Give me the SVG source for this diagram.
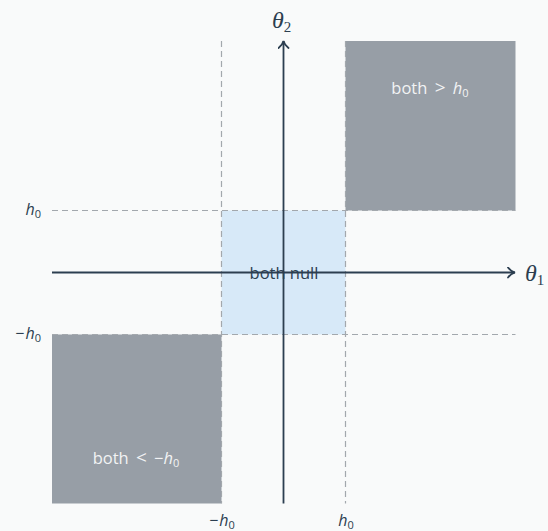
<svg xmlns="http://www.w3.org/2000/svg" width="548" height="531" viewBox="0 0 548 531">
<style>
.dash{stroke:#a3a8ad;stroke-width:1.2;stroke-dasharray:6 4;fill:none}
.axis{stroke:#2c3e50;stroke-width:1.8;fill:none}
.lbl{font-family:"Open Sans","Liberation Sans",sans-serif;font-size:16.5px}
.rel{font-size:19px}
.math{font-family:"Liberation Serif","DejaVu Serif",serif;font-style:italic}
.tick{font-family:"Open Sans","Liberation Sans",sans-serif;font-size:16px;fill:#2c3e50}
.sub{font-size:11px}
</style>
<defs>
<marker id="arr" viewBox="0 0 12 12" refX="10" refY="6" markerWidth="12" markerHeight="12" markerUnits="userSpaceOnUse" orient="auto">
<path d="M3,1 Q6,5 10,6 Q6,7 3,11" fill="none" stroke="#2c3e50" stroke-width="1.8" stroke-linecap="round"/>
</marker>
</defs>
<rect width="548" height="531" fill="#f9fafa"/>
<g id="region-pos">
<rect x="345.5" y="41" width="170" height="169.5" fill="#979ea6"/>
<text class="lbl" x="430" y="94" text-anchor="middle" fill="#f2f3f4">both <tspan class="rel" dx="3">&gt;</tspan> <tspan dx="3" font-style="italic">h</tspan><tspan class="sub" dy="3">0</tspan></text>
</g>
<g id="region-neg">
<rect x="52" y="334.5" width="169.5" height="169" fill="#979ea6"/>
<text class="lbl" x="136" y="464" text-anchor="middle" fill="#f2f3f4">both <tspan class="rel" dx="3">&lt;</tspan> <tspan dx="3">−</tspan><tspan font-style="italic">h</tspan><tspan class="sub" dy="3">0</tspan></text>
</g>
<g id="region-null">
<rect x="221.5" y="210.5" width="124" height="124" fill="#d7e9f8"/>
</g>
<g id="connectors">
<line class="dash" x1="221.5" y1="41" x2="221.5" y2="503.5"/>
<line class="dash" x1="345.5" y1="41" x2="345.5" y2="503.5"/>
<line class="dash" x1="52" y1="210.5" x2="515.5" y2="210.5"/>
<line class="dash" x1="52" y1="334.5" x2="515.5" y2="334.5"/>
<line class="axis" x1="52" y1="272.5" x2="515" y2="272.5" marker-end="url(#arr)"/>
<line class="axis" x1="283.5" y1="503.5" x2="283.5" y2="41" marker-end="url(#arr)"/>
</g>
<g id="label-null">
<text class="lbl" x="284" y="279" text-anchor="middle" fill="#2c3e50">both null</text>
</g>
<g id="axis-labels">
<text class="math" x="272" y="28" font-size="24" fill="#2c3e50">θ<tspan font-style="normal" font-size="15" dy="4">2</tspan></text>
<text class="math" x="525" y="281" font-size="24" fill="#2c3e50">θ<tspan font-style="normal" font-size="15" dy="4">1</tspan></text>
<text class="tick" x="41" y="215" text-anchor="end"><tspan font-style="italic">h</tspan><tspan class="sub" dy="3">0</tspan></text>
<text class="tick" x="41" y="339" text-anchor="end">−<tspan dx="1" font-style="italic">h</tspan><tspan class="sub" dy="3">0</tspan></text>
<text class="tick" x="222" y="526" text-anchor="middle">−<tspan dx="1" font-style="italic">h</tspan><tspan class="sub" dy="3">0</tspan></text>
<text class="tick" x="346" y="526" text-anchor="middle"><tspan font-style="italic">h</tspan><tspan class="sub" dy="3">0</tspan></text>
</g>
</svg>
